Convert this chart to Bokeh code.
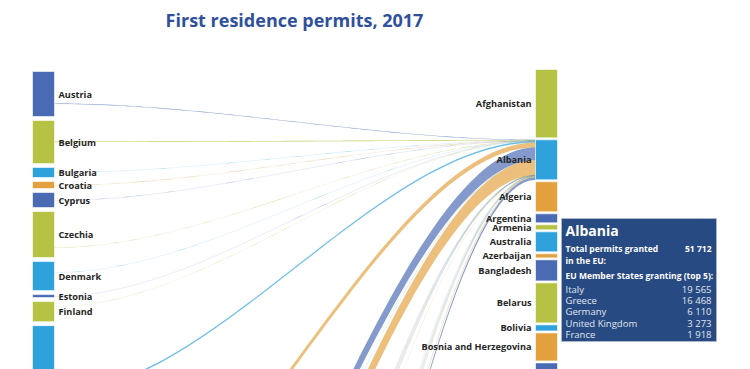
import numpy as np
from bokeh.plotting import figure
from bokeh.models import Range1d
from bokeh.embed import file_html
from bokeh.resources import INLINE
from bokeh.core.properties import value

# ---------------- data ----------------
states = ["Austria", "Belgium", "Bulgaria", "Croatia", "Cyprus", "Czechia", "Denmark",
          "Estonia", "Finland", "France", "Germany", "Greece", "Hungary", "Ireland",
          "Italy", "Latvia", "Lithuania", "Luxembourg", "Malta", "Netherlands", "Poland",
          "Portugal", "Romania", "Slovakia", "Slovenia", "Spain", "Sweden", "United Kingdom"]
state_totals = [58200, 55600, 12900, 9100, 19400, 59500, 37500, 3900, 25900, 250000,
                396300, 30000, 20000, 25000, 262000, 7000, 6000, 6500, 7500, 90000,
                330000, 35000, 12000, 14000, 14000, 130000, 70300, 517000]
# permits of each state's links that are stacked above its link to Albania
flows_before_albania = [41400, 27150, 6500, 5200, 10350, 46550, 14200, 2600, 6500, 86600,
                        75000, 2000, 1000, 1000, 1900, 1000, 1000, 500, 1000, 5000,
                        2000, 500, 500, 500, 500, 3000, 20000, 3000]
albania_flows = [450, 800, 40, 150, 60, 120, 60, 10, 60, 1918,
                 6110, 16468, 40, 50, 19565, 5, 5, 200, 150, 400,
                 60, 20, 40, 80, 250, 300, 1028, 3273]

citizenships = ["Afghanistan", "Albania", "Algeria", "Argentina", "Armenia", "Australia",
                "Azerbaijan", "Bangladesh", "Belarus", "Bolivia", "Bosnia and Herzegovina",
                "Brazil"]
citizenship_totals = [88300, 51712, 38800, 11600, 6500, 25900, 5200, 27200, 51700, 7800,
                      36200, 60000]
shown_labels_right = 11  # Brazil is cut off below

top5_states = ["Italy", "Greece", "Germany", "United Kingdom", "France"]
top5_values = [19565, 16468, 6110, 3273, 1918]

# ---------------- styles ----------------
BLUE, GREEN, LBLUE, ORANGE = "#4a6ab4", "#b6c243", "#2fa2dc", "#e3a13e"
state_colors = [BLUE, GREEN, LBLUE, ORANGE, BLUE, GREEN, LBLUE, BLUE, GREEN, LBLUE,
                ORANGE, BLUE, GREEN, LBLUE, ORANGE, BLUE, GREEN, LBLUE, ORANGE, BLUE,
                GREEN, LBLUE, ORANGE, BLUE, GREEN, LBLUE, ORANGE, BLUE]
cit_colors = [GREEN, LBLUE, ORANGE, BLUE, GREEN, LBLUE, ORANGE, BLUE, GREEN, LBLUE,
              ORANGE, BLUE]

PX = 40.0 / 51712.0          # layout scale (px per permit)
LEFT_X0, LEFT_X1 = 32, 54
RIGHT_X0, RIGHT_X1 = 535, 557
LEFT_TOP, RIGHT_TOP = 71, 69
LEFT_PAD, RIGHT_PAD = 4, 2
CURVE = 0.33
FONT = value("Open Sans")

# ---------------- layout ----------------
def stack(totals, top, pad):
    tops, bots = [], []
    y = top
    for v in totals:
        tops.append(y)
        y += v * PX
        bots.append(y)
        y += pad
    return tops, bots

l_top, l_bot = stack(state_totals, LEFT_TOP, LEFT_PAD)
r_top, r_bot = stack(citizenship_totals, RIGHT_TOP, RIGHT_PAD)

p = figure(width=750, height=369, x_range=Range1d(0, 750), y_range=Range1d(369, 0),
           output_backend="svg", toolbar_location=None, min_border=0)
p.axis.visible = False
p.grid.visible = False
p.outline_line_color = None
p.background_fill_color = "white"
p.border_fill_color = "white"

# links into Albania
alb = citizenships.index("Albania")
t = np.linspace(0, 1, 80)
xs, ys, cols = [], [], []
in_off = r_top[alb]
for i, s in enumerate(states):
    w = albania_flows[i] * PX
    y0 = l_top[i] + flows_before_albania[i] * PX
    y1 = in_off
    in_off += w
    c = (RIGHT_X0 - LEFT_X1) * CURVE
    bx = ((1 - t) ** 3 * LEFT_X1 + 3 * (1 - t) ** 2 * t * (LEFT_X1 + c)
          + 3 * (1 - t) * t ** 2 * (RIGHT_X0 - c) + t ** 3 * RIGHT_X0)
    a = (1 - t) ** 3 + 3 * (1 - t) ** 2 * t
    by = y0 * a + y1 * (1 - a)
    xs.append(list(bx) + list(bx[::-1]))
    ys.append(list(by) + list((by + w)[::-1]))
    cols.append(state_colors[i])
p.patches(xs=xs, ys=ys, fill_color=cols, fill_alpha=0.68, line_color=cols,
          line_alpha=0.12, line_width=0.5)

# nodes
p.quad(left=LEFT_X0, right=LEFT_X1, top=l_top, bottom=l_bot, fill_color=state_colors,
       line_color="white", line_width=0.6)
p.quad(left=RIGHT_X0, right=RIGHT_X1, top=r_top, bottom=r_bot, fill_color=cit_colors,
       line_color="white", line_width=0.6)

# labels
lab_l_y = [(a_ + b_) / 2 for a_, b_ in zip(l_top, l_bot)]
p.text(x=[LEFT_X1 + 4] * 9, y=lab_l_y[:9], text=states[:9], text_font=FONT,
       text_font_size="9.2px", text_font_style="bold", text_color="#262626",
       text_baseline="middle", text_align="left")
lab_r_y = [(a_ + b_) / 2 for a_, b_ in zip(r_top, r_bot)]
p.text(x=[RIGHT_X0 - 4] * shown_labels_right, y=lab_r_y[:shown_labels_right],
       text=citizenships[:shown_labels_right], text_font=FONT, text_font_size="9.2px",
       text_font_style="bold", text_color="#262626", text_baseline="middle",
       text_align="right")

# title
p.text(x=[294], y=[19], text=["First residence permits, 2017"], text_font=FONT,
       text_font_size="18px", text_font_style="bold", text_color="#2f509c",
       text_baseline="middle", text_align="center")

# tooltip
TX0, TX1, TY0, TY1 = 561, 716, 218, 341
p.quad(left=[TX0], right=[TX1], top=[TY0], bottom=[TY1], fill_color="#274a82",
       line_color="#aab6c8", line_width=1)
fmt = lambda v: f"{v:,}".replace(",", " ")
p.text(x=[TX0 + 4], y=[230], text=["Albania"], text_font=FONT, text_font_size="14px",
       text_font_style="bold", text_color="white", text_baseline="middle")
p.text(x=[TX0 + 4, TX0 + 4, TX0 + 4], y=[248, 260, 275],
       text=["Total permits granted", "in the EU:", "EU Member States granting (top 5):"],
       text_font=FONT, text_font_size="8.5px", text_font_style="bold", text_color="white",
       text_baseline="middle")
p.text(x=[TX1 - 5], y=[248], text=[fmt(sum(albania_flows))], text_font=FONT,
       text_font_size="8.5px", text_font_style="bold", text_color="white",
       text_baseline="middle", text_align="right")
row_y = [289 + 11.2 * k for k in range(5)]
p.text(x=[TX0 + 4] * 5, y=row_y, text=top5_states, text_font=FONT, text_font_size="9.5px",
       text_color="#e0e6f0", text_baseline="middle")
p.text(x=[TX1 - 5] * 5, y=row_y, text=[fmt(v) for v in top5_values], text_font=FONT,
       text_font_size="9.5px", text_color="#e0e6f0", text_baseline="middle",
       text_align="right")

open("out.html", "w").write(file_html(p, INLINE))
